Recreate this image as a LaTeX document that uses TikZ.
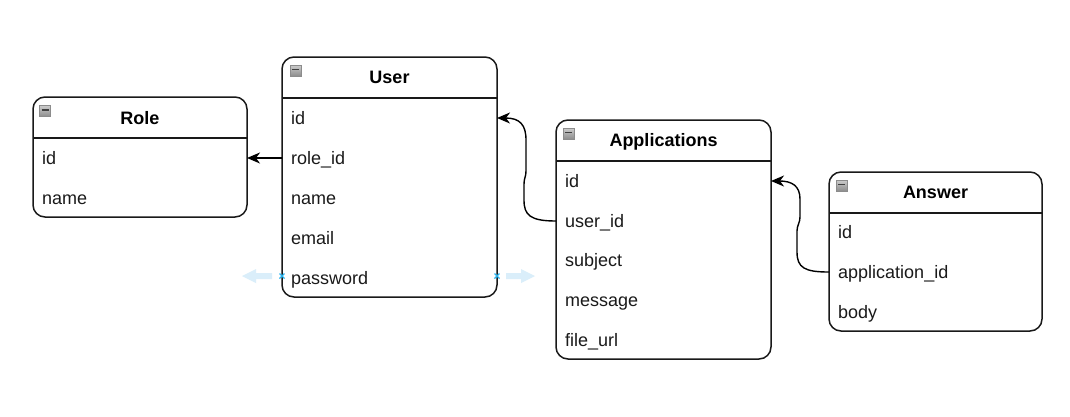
\documentclass[tikz,border=0pt]{standalone}
\usepackage{fontspec}
\setmainfont{Liberation Sans}
\usetikzlibrary{arrows.meta}
\definecolor{hoverfill}{RGB}{218,238,250}
\definecolor{hovermark}{RGB}{41,182,242}
\definecolor{txt}{RGB}{26,26,26}
\tikzset{
  tbl/.style={draw=black!90, line width=1.5pt, rounded corners=12pt, fill=white,
              anchor=north west, inner sep=0pt, outer sep=0pt},
  sep/.style={draw=black!90, line width=1.5pt},
  ttl/.style={font=\fontsize{18}{20}\selectfont\bfseries, text=black, inner sep=0pt,
              text height=13pt, text depth=0pt},
  fld/.style={font=\fontsize{18}{20}\selectfont, text=txt, anchor=west, inner sep=0pt,
              text height=16pt, text depth=3pt},
  tblicon/.style={draw=black!45, line width=0.6pt, top color=black!20, bottom color=black!45,
              minimum size=11pt, inner sep=0pt,
              path picture={\draw[black!75, line width=1.6pt]
                ([xshift=2pt,yshift=1pt]path picture bounding box.west) --
                ([xshift=-2pt,yshift=1pt]path picture bounding box.east);}},
  conn/.style={draw=black, line width=1.4pt, -{Stealth[length=13pt,width=11pt,inset=4pt]}},
  hover/.style={fill=hoverfill, draw=none},
  hovermk/.style={draw=hovermark, line width=1.1pt}
}
\begin{document}
\begin{tikzpicture}[x=1pt,y=-1pt]
\useasboundingbox[fill=white] (0,0) rectangle (1070,416);

% ---- Role ----
\node[tbl, minimum width=214pt, minimum height=120pt] (role) at (33,97) {};
\draw[sep] (33,138) -- (247,138);
\node[tblicon] (role-ic) at (45,111) {};
\node[ttl] (role-t) at (140,118) {Role};
\node[fld] (r-id) at (42,158) {id};
\node[fld] (r-name) at (42,198) {name};

% ---- User ----
\node[tbl, minimum width=215pt, minimum height=240pt] (user) at (282,57) {};
\draw[sep] (282,98) -- (497,98);
\node[tblicon] (user-ic) at (295.5,70.5) {};
\node[ttl] (user-t) at (389.5,77) {User};
\node[fld] (u-id) at (291,118) {id};
\node[fld] (u-roleid) at (291,158) {role\_id};
\node[fld] (u-name) at (291,198) {name};
\node[fld] (u-email) at (291,238) {email};
\node[fld] (u-pass) at (291,278) {password};

% ---- Applications ----
\node[tbl, minimum width=215pt, minimum height=239pt] (app) at (556,120) {};
\draw[sep] (556,161) -- (771,161);
\node[tblicon] (app-ic) at (568.5,133.5) {};
\node[ttl] (app-t) at (663.5,140) {Applications};
\node[fld] (a-id) at (565,181) {id};
\node[fld] (a-userid) at (565,221) {user\_id};
\node[fld] (a-subject) at (565,260) {subject};
\node[fld] (a-message) at (565,300) {message};
\node[fld] (a-file) at (565,340) {file\_url};

% ---- Answer ----
\node[tbl, minimum width=213pt, minimum height=159pt] (ans) at (829,172) {};
\draw[sep] (829,213) -- (1042,213);
\node[tblicon] (ans-ic) at (841.5,185.5) {};
\node[ttl] (ans-t) at (935.5,192) {Answer};
\node[fld] (n-id) at (838,232) {id};
\node[fld] (n-appid) at (838,272) {application\_id};
\node[fld] (n-body) at (838,312) {body};

% ---- connectors ----
\draw[conn] (user.west |- u-roleid) -- (role.east |- u-roleid);
\draw[conn] (app.west |- a-userid) .. controls (530,221) and (524,215) .. (524,200)
  -- (524,184) .. controls (524,178) and (526,177) .. (526,171)
  -- (526,140) .. controls (526,125) and (520,118) .. (user.east |- u-id);
\draw[conn] (ans.west |- n-appid) .. controls (805,272) and (797,268) .. (797,252)
  -- (797,231) .. controls (797,225) and (800,223) .. (800,217)
  -- (800,199) .. controls (800,186) and (792,181) .. (app.east |- a-id);

% ---- hover hints ----
\coordinate (hl) at (282,276);
\coordinate (hr) at (497,276);
\fill[hover] (242,276) -- (256,269) -- (256,273) -- (272,273) -- (272,279) -- (256,279) -- (256,283) -- cycle;
\fill[hover] (535,276) -- (521,269) -- (521,273) -- (506,273) -- (506,279) -- (521,279) -- (521,283) -- cycle;
\draw[hovermk] ([shift={(-2.5,-2.5)}]hl) -- ([shift={(2.5,2.5)}]hl) ([shift={(-2.5,2.5)}]hl) -- ([shift={(2.5,-2.5)}]hl);
\draw[hovermk] ([shift={(-2.5,-2.5)}]hr) -- ([shift={(2.5,2.5)}]hr) ([shift={(-2.5,2.5)}]hr) -- ([shift={(2.5,-2.5)}]hr);
\end{tikzpicture}
\end{document}
